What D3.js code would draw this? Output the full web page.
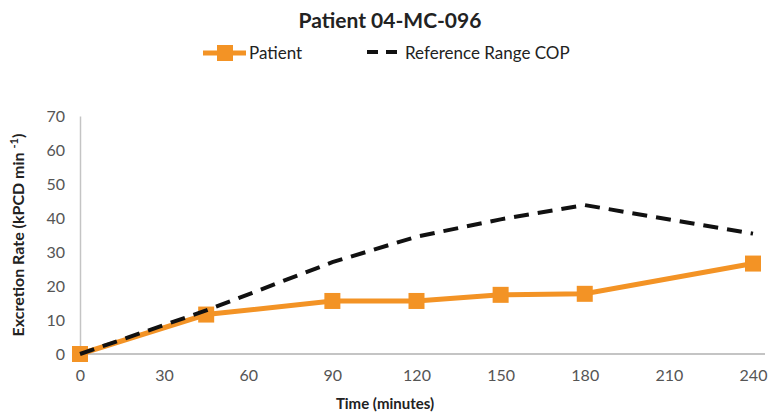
<!DOCTYPE html>
<html>
<head>
<meta charset="utf-8">
<script src="https://cdn.jsdelivr.net/npm/d3@7"></script>
<style>
  body { margin: 0; background: #fff; }
  svg { font-family: Lato, "Open Sans", sans-serif; }
</style>
</head>
<body>
<div id="main"></div>
<script>
const W = 770, H = 415;
const margin = {top: 116, right: 17, bottom: 61, left: 80};

// data
const patientTimes = [0, 45, 90, 120, 150, 180, 240];
const patientValues = [0, 11.6, 15.6, 15.6, 17.4, 17.7, 26.6];
const refTimes = [0, 45, 90, 120, 150, 180, 240];
const refValues = [0, 12.8, 27, 34.5, 39.6, 43.8, 35.4];
const xTicks = [0, 30, 60, 90, 120, 150, 180, 210, 240];
const yTicks = [0, 10, 20, 30, 40, 50, 60, 70];

const ORANGE = "#f39325";

const svg = d3.select("#main").append("svg")
              .attr("width", W)
              .attr("height", H);

const x = d3.scaleLinear().domain([0, 240]).range([margin.left, 753]);
const y = d3.scaleLinear().domain([0, 70]).range([H - margin.bottom, margin.top]);

// title
svg.append("text")
   .attr("x", 390).attr("y", 28)
   .attr("text-anchor", "middle")
   .attr("font-size", 21).attr("font-weight", "bold")
   .attr("fill", "#222")
   .text("Patient 04-MC-096");

// legend
const lg = svg.append("g");
lg.append("line").attr("x1", 203).attr("x2", 246).attr("y1", 53).attr("y2", 53)
  .attr("stroke", ORANGE).attr("stroke-width", 5);
lg.append("rect").attr("x", 217).attr("y", 45).attr("width", 16).attr("height", 16)
  .attr("fill", ORANGE);
lg.append("text").attr("x", 249).attr("y", 59).attr("font-size", 17).attr("fill", "#222").text("Patient");
lg.append("line").attr("x1", 367).attr("x2", 397).attr("y1", 52).attr("y2", 52)
  .attr("stroke", "#111").attr("stroke-width", 4).attr("stroke-dasharray", "11,8");
lg.append("text").attr("x", 405).attr("y", 59).attr("font-size", 17).attr("fill", "#222").text("Reference Range COP");

// axes
const xAxis = svg.append("g")
   .attr("transform", `translate(0,${y(0)})`)
   .call(d3.axisBottom(x).tickValues(xTicks).tickSize(0).tickPadding(16));
xAxis.select(".domain").attr("stroke", "#c4c4c4").attr("stroke-width", 2)
     .attr("d", `M${x(0)},0H${W - 5}`);
xAxis.selectAll("text").attr("font-size", 16).attr("fill", "#555").attr("font-family", "Lato, sans-serif");

const yAxis = svg.append("g")
   .attr("transform", `translate(${x(0)},0)`)
   .call(d3.axisLeft(y).tickValues(yTicks).tickSize(0).tickPadding(15));
yAxis.select(".domain").attr("stroke", "#c4c4c4").attr("stroke-width", 1.5);
yAxis.selectAll("text").attr("font-size", 16).attr("fill", "#555").attr("font-family", "Lato, sans-serif");

// axis titles
svg.append("text")
   .attr("x", 385).attr("y", 409)
   .attr("text-anchor", "middle")
   .attr("font-size", 15).attr("font-weight", "bold").attr("fill", "#222")
   .text("Time (minutes)");

const yt = svg.append("text")
   .attr("transform", `translate(24,${(y(0) + y(70)) / 2}) rotate(-90)`)
   .attr("text-anchor", "middle")
   .attr("font-size", 16).attr("font-weight", "bold").attr("fill", "#222");
yt.append("tspan").text("Excretion Rate (kPCD min ");
yt.append("tspan").attr("font-size", 11).attr("dy", -6).text("-1");
yt.append("tspan").attr("dy", 6).text(")");

const line = d3.line().x(d => x(d[0])).y(d => y(d[1]));

const patient = patientTimes.map((t, i) => [t, patientValues[i]]);
const ref = refTimes.map((t, i) => [t, refValues[i]]);

svg.append("path").datum(patient)
   .attr("d", line).attr("fill", "none")
   .attr("stroke", ORANGE).attr("stroke-width", 5);

svg.selectAll("rect.pm").data(patient).enter()
   .append("rect").attr("class", "pm")
   .attr("x", d => x(d[0]) - 8).attr("y", d => y(d[1]) - 8)
   .attr("width", 16).attr("height", 16)
   .attr("fill", ORANGE);

svg.append("path").datum(ref)
   .attr("d", line).attr("fill", "none")
   .attr("stroke", "#111").attr("stroke-width", 4)
   .attr("stroke-dasharray", "15,9");
</script>
</body>
</html>
